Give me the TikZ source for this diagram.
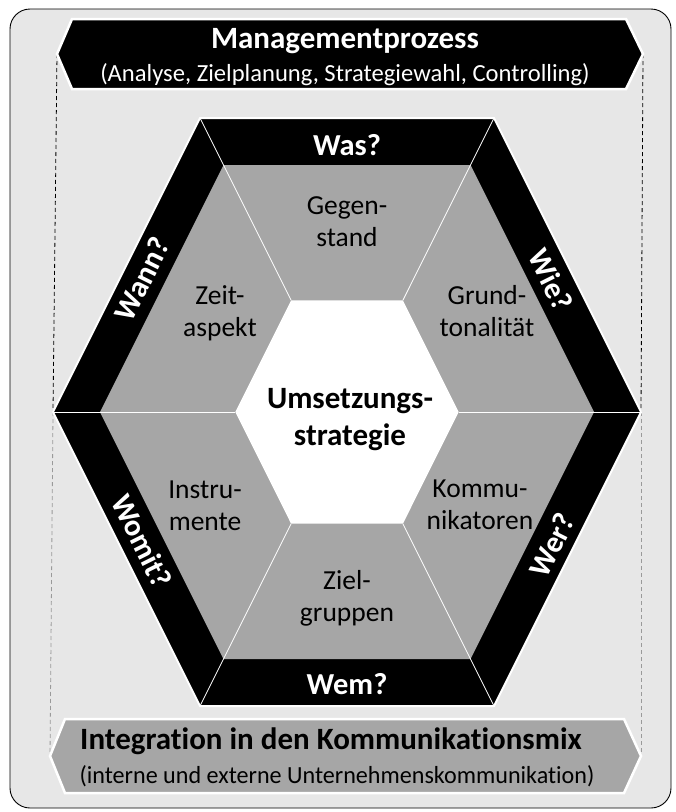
\documentclass[tikz,border=0pt]{standalone}
\usepackage{fontspec}
\setmainfont{Carlito}[Ligatures=NoCommon]
\usetikzlibrary{calc}
\definecolor{bgfill}{HTML}{E7E7E7}
\definecolor{segfill}{HTML}{A6A6A6}
\definecolor{dashgray}{HTML}{9A9A9A}
\begin{document}
\begin{tikzpicture}[x=1pt,y=-1pt,
  bandlabel/.style={text=white,font=\fontsize{30.5}{32}\selectfont\bfseries,inner sep=0pt},
  seglabel/.style={text=black,font=\fontsize{27.5}{32}\selectfont,align=center,inner sep=0pt},
  centerlabel/.style={text=black,font=\fontsize{31}{37}\selectfont\bfseries,align=center,inner sep=0pt},
  titlelabel/.style={font=\fontsize{31}{33}\selectfont\bfseries,inner sep=0pt,anchor=base},
  sublabel/.style={font=\fontsize{24.6}{26}\selectfont,inner sep=0pt,anchor=base},
  divider/.style={white,line width=0.8pt},
  bannerline/.style={white,line width=2.5pt,line join=miter},
  guide/.style={line width=0.8pt,dash pattern=on 4pt off 3pt}]
\useasboundingbox (0,0) rectangle (676,812);
% frame
\draw[fill=bgfill,line width=0.9pt,rounded corners=20pt] (10,9) rectangle (671,808);
% coordinates
\coordinate (o1) at (200,118); \coordinate (o2) at (494,118); \coordinate (o3) at (641,412);
\coordinate (o4) at (494,706); \coordinate (o5) at (200,706); \coordinate (o6) at (53,412);
\coordinate (g1) at (223.5,165); \coordinate (g2) at (470.5,165); \coordinate (g3) at (594,412);
\coordinate (g4) at (470.5,659); \coordinate (g5) at (223.5,659); \coordinate (g6) at (100,412);
\coordinate (w1) at (291.1,300.3); \coordinate (w2) at (402.9,300.3); \coordinate (w3) at (458.7,412);
\coordinate (w4) at (402.9,523.7); \coordinate (w5) at (291.1,523.7); \coordinate (w6) at (235.3,412);
% banner coordinates
\coordinate (ta) at (57,54); \coordinate (tb) at (72,19); \coordinate (tc) at (626,19);
\coordinate (td) at (643,54); \coordinate (te) at (626,89); \coordinate (tf) at (72,89);
\coordinate (ba) at (50,756); \coordinate (bb) at (65,719); \coordinate (bc) at (624,719);
\coordinate (bd) at (641,756); \coordinate (be) at (624,793); \coordinate (bf) at (65,793);
% dashed guides
\draw[guide,black] (ta) -- (o6);
\draw[guide,dashgray] (o6) -- (ba);
\draw[guide,black] (td) -- (o3);
\draw[guide,dashgray] (o3) -- (bd);
% hexagon
\fill[black] (o1)--(o2)--(o3)--(o4)--(o5)--(o6)--cycle;
\fill[segfill] (g1)--(g2)--(g3)--(g4)--(g5)--(g6)--cycle;
\fill[white] (w1)--(w2)--(w3)--(w4)--(w5)--(w6)--cycle;
\foreach \i in {1,...,6} {\draw[divider] (o\i) -- (w\i);}
\draw[white,line width=2pt,line join=miter] (o1)--(o2)--(o3)--(o4)--(o5)--(o6)--cycle;
% banners
\draw[bannerline,fill=black] (ta)--(tb)--(tc)--(td)--(te)--(tf)--cycle;
\draw[bannerline,fill=segfill] (ba)--(bb)--(bc)--(bd)--(be)--(bf)--cycle;
\node[titlelabel,text=white] (t1) at (345,48) {Managementprozess};
\node[sublabel,text=white] (t2) at (345,81) {(Analyse, Zielplanung, Strategiewahl, Controlling)};
\node[titlelabel,text=black] (b1) at (331,749) {Integration in den Kommunikationsmix};
\node[sublabel,text=black,xscale=0.98] (b2) at (337,783) {(interne und externe Unternehmenskommunikation)};
% band labels
\node[bandlabel] (was) at (347,145) {Was?};
\node[bandlabel] (wem) at (347,684) {Wem?};
\node[bandlabel,rotate=63.43] (wann) at (142,279) {Wann?};
\node[bandlabel,rotate=-63.43] (wie) at (551,280) {Wie?};
\node[bandlabel,rotate=-63.43] (womit) at (142,541) {Womit?};
\node[bandlabel,rotate=63.43] (wer) at (552,545) {Wer?};
% segment labels
\node[seglabel] (gegen) at (347,222) {Gegen-\\stand};
\node[seglabel] (zeit) at (220,313) {Zeit-\\aspekt};
\node[seglabel] (grund) at (487,311) {Grund-\\tonalität};
\node[seglabel] (instr) at (205,506) {Instru-\\mente};
\node[seglabel] (komm) at (480,505) {Kommu-\\nikatoren};
\node[seglabel] (ziel) at (347,598) {Ziel-\\gruppen};
\node[centerlabel] (center) at (350,420) {Umsetzungs-\\strategie};
\end{tikzpicture}
\end{document}
